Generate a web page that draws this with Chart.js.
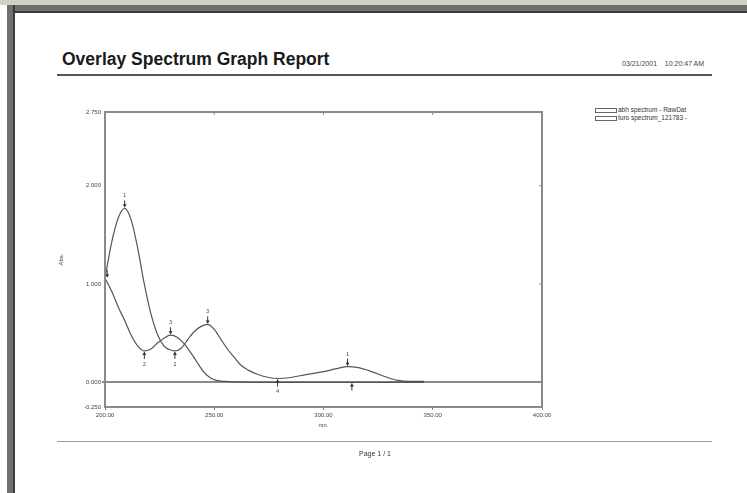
<!DOCTYPE html>
<html>
<head>
<meta charset="utf-8">
<script src="https://cdn.jsdelivr.net/npm/chart.js@4"></script>
<style>
  body { margin: 0; width: 747px; height: 493px; position: relative; overflow: hidden; background: #fff; font-family: "Liberation Sans", Arial, sans-serif; }
  .strip { position: absolute; left: 0; top: 0; width: 747px; height: 5px; background: #d4d0c8; }
  .frameTop { position: absolute; left: 7px; top: 5px; width: 740px; height: 8px; background: #6f6f6f; border-bottom: 2px solid #3a3a3a; box-sizing: border-box; }
  .frameLeft { position: absolute; left: 7px; top: 5px; width: 8px; height: 488px; background: #6f6f6f; border-right: 2px solid #3a3a3a; box-sizing: border-box; }
  .txt { position: absolute; white-space: nowrap; color: #222; }
  .hline { position: absolute; left: 57px; width: 655px; }
  #chart { position: absolute; left: 0; top: 0; }
  .legRow { position: absolute; left: 595px; font-size: 6.5px; color: #333; white-space: nowrap; }
  .legRow span.box { display: inline-block; width: 20px; height: 3px; border: 1px solid #666; vertical-align: middle; margin-right: 1px; }
</style>
</head>
<body>
<div class="strip"></div>
<div class="frameTop"></div>
<div class="frameLeft"></div>

<div class="txt" style="left:62px; top:49px; font-size:17.5px; font-weight:bold; color:#1a1a1a;">Overlay Spectrum Graph Report</div>
<div class="txt" style="left:622px; top:60px; font-size:7px; color:#444;">03/21/2001 &nbsp;&nbsp; 10:20:47 AM</div>
<div class="hline" style="top:74px; height:2px; background:#555;"></div>

<div class="legRow" style="top:106px;"><span class="box"></span>abh spectrum - RawDat</div>
<div class="legRow" style="top:114px;"><span class="box"></span>turo spectrum_121783 -</div>

<canvas id="chart" width="747" height="493"></canvas>

<div class="hline" style="top:441px; height:1px; background:#999;"></div>
<div class="txt" style="left:359px; top:450px; font-size:7px; color:#333;">Page 1 / 1</div>

<script>
// wavelength (nm) and absorbance
const nmA = [200, 203, 206, 209, 212, 215, 218, 221, 224, 227, 230, 232, 235, 238, 241, 244, 247, 250, 253, 256, 259, 262, 266, 270, 275, 279, 285, 292, 300, 306, 311, 316, 322, 328, 334, 340, 346];
const absA = [1.06, 1.42, 1.67, 1.77, 1.65, 1.36, 1.00, 0.70, 0.49, 0.37, 0.33, 0.32, 0.35, 0.44, 0.52, 0.57, 0.59, 0.54, 0.44, 0.34, 0.26, 0.18, 0.12, 0.08, 0.05, 0.04, 0.05, 0.08, 0.11, 0.14, 0.16, 0.15, 0.11, 0.06, 0.02, 0.01, 0.01];

const nmB = [200, 203, 206, 209, 212, 215, 218, 221, 224, 227, 230, 233, 236, 239, 242, 245, 248, 251, 255, 260, 270, 290, 310, 330, 346];
const absB = [1.06, 0.93, 0.77, 0.63, 0.48, 0.37, 0.32, 0.34, 0.40, 0.45, 0.48, 0.46, 0.40, 0.31, 0.21, 0.11, 0.05, 0.02, 0.01, 0.005, 0, 0, 0, 0, 0];

// picked peaks (arrow from above) and valleys (arrow from below): [nm, abs, label]
const peaksA = [[209, 1.77, "1"], [247, 0.59, "3"], [311, 0.16, "1"]];
const valleysA = [[232, 0.32, "2"], [279, 0.04, "4"]];
const peaksB = [[201, 1.06, ""], [230, 0.48, "3"]];
const valleysB = [[218, 0.32, "2"], [313, 0.0, ""]];

const yTicks = [-0.25, 0, 1, 2, 2.75];
const xTicks = [200, 250, 300, 350, 400];

const lineColor = "#555";

const markerPlugin = {
  id: "markers",
  afterDatasetsDraw(chart) {
    const c = chart.ctx;
    const xs = chart.scales.x, ys = chart.scales.y;
    c.save();
    c.strokeStyle = "#333";
    c.fillStyle = "#333";
    c.lineWidth = 1;
    c.font = "5px 'Liberation Sans', Arial";
    c.textAlign = "center";
    const draw = (list, up) => {
      list.forEach(([nm, v, lab]) => {
        const px = xs.getPixelForValue(nm);
        const py = ys.getPixelForValue(v);
        const d = up ? -1 : 1;
        c.beginPath();
        c.moveTo(px, py + d * 8);
        c.lineTo(px, py + d * 1);
        c.stroke();
        c.beginPath();
        c.moveTo(px - 2, py + d * 4);
        c.lineTo(px, py + d * 1);
        c.lineTo(px + 2, py + d * 4);
        c.fill();
        if (lab) c.fillText(lab, px, up ? py - 11 : py + 15);
      });
    };
    draw(peaksA, true); draw(valleysA, false);
    draw(peaksB, true); draw(valleysB, false);
    c.restore();
  }
};

const framePlugin = {
  id: "frame",
  afterDraw(chart) {
    const a = chart.chartArea, c = chart.ctx;
    c.save();
    c.strokeStyle = "#8a8a8a";
    c.lineWidth = 2;
    c.strokeRect(a.left, a.top, a.right - a.left, a.bottom - a.top);
    // small inner ticks on the top and right edges
    c.lineWidth = 1;
    xTicks.slice(1, -1).forEach(t => {
      const px = chart.scales.x.getPixelForValue(t);
      c.beginPath(); c.moveTo(px, a.top); c.lineTo(px, a.top + 3); c.stroke();
    });
    yTicks.slice(1, -1).forEach(t => {
      const py = chart.scales.y.getPixelForValue(t);
      c.beginPath(); c.moveTo(a.right, py); c.lineTo(a.right - 3, py); c.stroke();
    });
    c.restore();
  }
};

new Chart(document.getElementById("chart"), {
  type: "line",
  data: {
    datasets: [
      { label: "abh spectrum - RawDat", data: nmA.map((x, i) => ({ x: x, y: absA[i] })), borderColor: lineColor, borderWidth: 1.2, pointRadius: 0, cubicInterpolationMode: "monotone" },
      { label: "turo spectrum_121783 -", data: nmB.map((x, i) => ({ x: x, y: absB[i] })), borderColor: lineColor, borderWidth: 1.2, pointRadius: 0, cubicInterpolationMode: "monotone" }
    ]
  },
  options: {
    responsive: false,
    animation: false,
    layout: { padding: { left: 58, top: 112, right: 205, bottom: 64 } },
    plugins: { legend: { display: false }, tooltip: { enabled: false } },
    scales: {
      x: {
        type: "linear",
        min: 200, max: 400,
        afterBuildTicks: s => { s.ticks = xTicks.map(v => ({ value: v })); },
        afterFit: s => { s.height = 22; },
        ticks: { font: { size: 6, family: "'Liberation Sans', Arial" }, color: "#444", padding: 2, maxRotation: 0, callback: v => Number(v).toFixed(2) },
        grid: { display: true, drawOnChartArea: false, tickLength: 3, tickColor: "#888" },
        border: { display: false },
        title: { display: true, text: "nm.", font: { size: 6, family: "'Liberation Sans', Arial" }, color: "#444", padding: { top: 0, bottom: 0 } }
      },
      y: {
        type: "linear",
        min: -0.25, max: 2.75,
        afterBuildTicks: s => { s.ticks = yTicks.map(v => ({ value: v })); },
        afterFit: s => { s.width = 47; },
        ticks: { font: { size: 6, family: "'Liberation Sans', Arial" }, color: "#444", padding: 1, callback: v => Number(v).toFixed(3) },
        grid: {
          drawOnChartArea: true, tickLength: 3, tickColor: "#888",
          color: ctx => (ctx.tick && ctx.tick.value === 0 ? "#8a8a8a" : "rgba(0,0,0,0)"),
          lineWidth: ctx => (ctx.tick && ctx.tick.value === 0 ? 2 : 0)
        },
        border: { display: false },
        title: { display: true, text: "Abs.", font: { size: 6, family: "'Liberation Sans', Arial" }, color: "#444", padding: { top: 0, bottom: 0 } }
      }
    }
  },
  plugins: [markerPlugin, framePlugin]
});
</script>
</body>
</html>
